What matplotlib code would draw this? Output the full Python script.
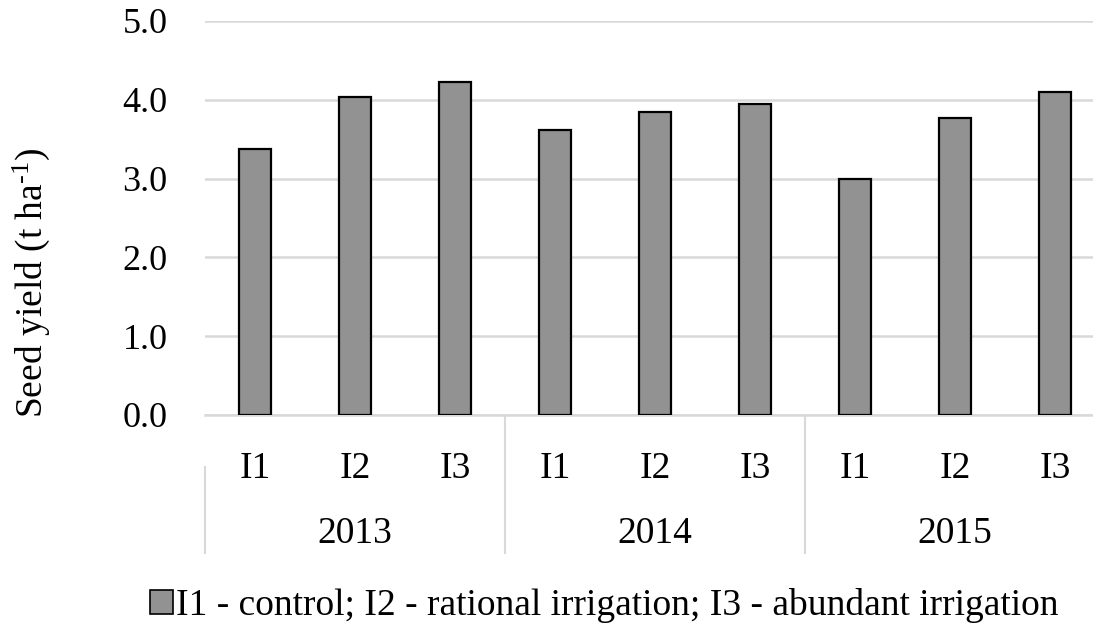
import matplotlib
matplotlib.use("Agg")
import matplotlib.pyplot as plt
from matplotlib.patches import Patch
from matplotlib.transforms import blended_transform_factory

years = ["2013", "2014", "2015"]
treatments = ["I1", "I2", "I3"]
yield_2013 = [3.38, 4.03, 4.22]
yield_2014 = [3.62, 3.84, 3.95]
yield_2015 = [3.00, 3.77, 4.10]
yticks = [0.0, 1.0, 2.0, 3.0, 4.0, 5.0]

plt.rcParams["font.family"] = ["Liberation Serif", "DejaVu Serif"]
plt.rcParams["mathtext.fontset"] = "custom"
plt.rcParams["mathtext.rm"] = "Liberation Serif"
plt.rcParams["mathtext.default"] = "regular"
FS = 27

values = yield_2013 + yield_2014 + yield_2015
labels = treatments * len(years)
x = list(range(len(values)))

fig = plt.figure(figsize=(10.93, 6.35), dpi=100)
ax = fig.add_axes([0.1876, 0.3465, 0.8124, 0.6205])

ax.bar(x, values, width=0.32, color="#929292", edgecolor="black",
       linewidth=1.6, zorder=3)

ax.set_ylim(0, 5.0)
ax.set_xlim(-0.5, 8.38)
ax.set_yticks(yticks)
ax.set_yticklabels([f"{v:.1f}" for v in yticks], fontsize=26)
ax.yaxis.grid(True, color="#d9d9d9", linewidth=1.8, zorder=0)
ax.tick_params(axis="y", length=0, pad=27)
ax.set_xticks([])

for side in ["top", "right", "left"]:
    ax.spines[side].set_visible(False)
ax.spines["bottom"].set_color("#d9d9d9")
ax.spines["bottom"].set_linewidth(1.8)

trans = blended_transform_factory(ax.transData, ax.transAxes)
for xi, lab in zip(x, labels):
    ax.text(xi, -0.137, lab, transform=trans, ha="center", va="center",
            fontsize=FS)
for i, yr in enumerate(years):
    ax.text(i * 3 + 1, -0.302, yr, transform=trans, ha="center",
            va="center", fontsize=FS)
ax.plot([-0.5, -0.5], [-0.133, -0.35], transform=trans, color="#d9d9d9",
        linewidth=1.5, clip_on=False)
for sep in [2.5, 5.5]:
    ax.plot([sep, sep], [0, -0.35], transform=trans, color="#d9d9d9",
            linewidth=1.5, clip_on=False)

ax.set_ylabel(r"Seed yield (t ha$^{\text{-}1}$)", fontsize=FS, va="center")
ax.yaxis.set_label_coords(-0.196, 0.335)

handle = Patch(facecolor="#929292", edgecolor="black", linewidth=1.2)
fig.legend([handle],
           ["I1 - control; I2 - rational irrigation; I3 - abundant irrigation"],
           loc="center", bbox_to_anchor=(0.553, 0.046), frameon=False,
           fontsize=FS, handlelength=0.6, handleheight=0.6, handletextpad=0.1)

fig.savefig("out.png", dpi=100)
